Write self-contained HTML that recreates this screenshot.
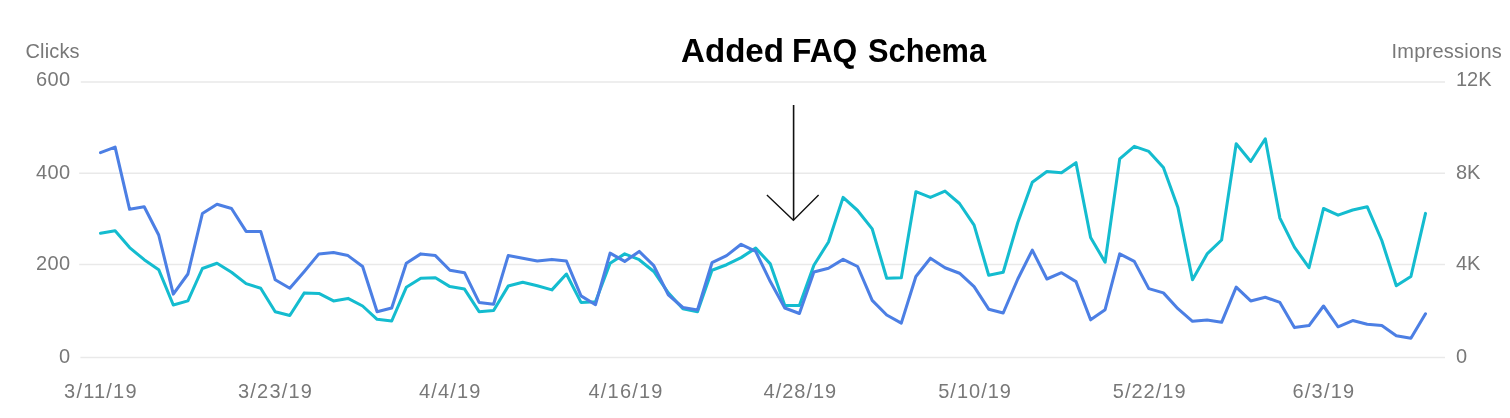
<!DOCTYPE html>
<html><head><meta charset="utf-8"><style>
html,body{margin:0;padding:0;background:#fff;}
body{width:1510px;height:418px;position:relative;overflow:hidden;font-family:"Liberation Sans",sans-serif;color:#787878;font-size:20px;}
.t{transform:scaleY(1.04);filter:blur(0.45px);position:absolute;white-space:nowrap;line-height:20px;}
.xl{transform:scaleY(1.04);filter:blur(0.45px);position:absolute;top:380.5px;width:120px;text-align:center;line-height:20px;letter-spacing:1.2px;white-space:nowrap;}
.title{position:absolute;top:33px;font-weight:bold;font-size:34px;line-height:34px;color:#000;white-space:nowrap;transform-origin:0 0;}
svg{position:absolute;left:0;top:0;}
</style></head><body>
<svg width="1510" height="418" viewBox="0 0 1510 418">
<g stroke="#e9e9e9" stroke-width="1.5" fill="none">
<line x1="80.8" y1="81.9" x2="1445" y2="81.9"/>
<line x1="79.2" y1="173.3" x2="1445" y2="173.3"/>
<line x1="79.2" y1="264.6" x2="1445" y2="264.6"/>
<line x1="80.4" y1="357.6" x2="1445" y2="357.6"/>
</g>
<polyline fill="none" stroke="#14bccf" stroke-width="3.05" stroke-linejoin="round" stroke-linecap="round" style="filter:blur(0.6px)" points="100.5,233.2 115.1,230.7 129.6,247.6 144.2,259.7 158.7,269.7 173.3,305.0 187.9,300.9 202.4,268.5 217.0,263.2 231.5,272.2 246.1,283.6 260.7,288.3 275.2,311.7 289.8,315.5 304.3,292.9 318.9,293.4 333.5,300.9 348.0,298.4 362.6,306.0 377.1,319.3 391.7,321.0 406.3,287.3 420.8,278.3 435.4,277.8 449.9,286.6 464.5,289.1 479.1,311.7 493.6,310.5 508.2,286.1 522.7,282.3 537.3,285.8 551.9,289.9 566.4,274.0 581.0,302.4 595.5,301.7 610.1,263.2 624.7,253.9 639.2,259.7 653.8,271.5 668.3,292.9 682.9,308.7 697.5,311.7 712.0,270.2 726.6,264.7 741.1,257.6 755.7,248.1 770.3,263.9 784.8,305.5 799.4,305.5 813.9,265.2 828.5,242.0 843.1,197.4 857.6,210.5 872.2,228.9 886.7,278.3 901.3,277.8 915.9,191.7 930.4,197.4 945.0,191.1 959.5,203.5 974.1,225.1 988.7,275.3 1003.2,272.2 1017.8,222.5 1032.3,182.3 1046.9,171.5 1061.5,172.8 1076.0,162.7 1090.6,237.5 1105.1,262.2 1119.7,158.9 1134.3,146.4 1148.8,151.4 1163.4,167.5 1177.9,207.5 1192.5,279.8 1207.1,253.9 1221.6,240.0 1236.2,143.8 1250.7,161.5 1265.3,138.8 1279.9,218.1 1294.4,247.1 1309.0,267.7 1323.5,208.5 1338.1,215.1 1352.7,210.0 1367.2,206.7 1381.8,240.5 1396.3,285.8 1410.9,276.5 1425.5,213.4"/>
<polyline fill="none" stroke="#4c7fe4" stroke-width="3.05" stroke-linejoin="round" stroke-linecap="round" style="filter:blur(0.6px)" points="100.5,152.6 115.1,147.1 129.6,209.3 144.2,206.7 158.7,235.0 173.3,294.1 187.9,274.0 202.4,213.5 217.0,204.2 231.5,208.5 246.1,231.4 260.7,231.4 275.2,279.8 289.8,288.3 304.3,271.5 318.9,253.9 333.5,252.6 348.0,255.6 362.6,266.5 377.1,311.7 391.7,308.0 406.3,263.2 420.8,253.9 435.4,255.6 449.9,270.2 464.5,272.7 479.1,302.4 493.6,304.2 508.2,255.6 522.7,258.2 537.3,260.9 551.9,259.4 566.4,261.0 581.0,295.9 595.5,304.7 610.1,253.1 624.7,261.4 639.2,251.4 653.8,265.7 668.3,294.9 682.9,307.5 697.5,310.0 712.0,262.7 726.6,255.6 741.1,244.3 755.7,251.4 770.3,281.6 784.8,308.0 799.4,313.5 813.9,272.0 828.5,268.2 843.1,259.4 857.6,266.5 872.2,300.4 886.7,315.0 901.3,323.1 915.9,276.5 930.4,258.2 945.0,267.7 959.5,273.2 974.1,286.6 988.7,309.2 1003.2,313.0 1017.8,279.0 1032.3,250.1 1046.9,279.0 1061.5,272.7 1076.0,281.6 1090.6,319.8 1105.1,309.7 1119.7,253.9 1134.3,261.4 1148.8,288.6 1163.4,292.9 1177.9,308.7 1192.5,321.3 1207.1,320.1 1221.6,322.3 1236.2,287.1 1250.7,300.9 1265.3,297.2 1279.9,302.4 1294.4,327.6 1309.0,325.6 1323.5,306.0 1338.1,326.8 1352.7,320.6 1367.2,324.3 1381.8,325.6 1396.3,335.7 1410.9,338.2 1425.5,313.8"/>
<g stroke="#111" fill="none">
<line x1="793.6" y1="105" x2="793.6" y2="220" stroke-width="1.6"/>
<polyline points="766.9,195 793.4,220.2 818.6,195" stroke-width="1.35"/>
</g>
</svg>
<div class="title" style="left:681px;transform:scaleX(0.974)">Added</div>
<div class="title" style="left:791.7px;transform:scaleX(0.935)">FAQ</div>
<div class="title" style="left:867.8px;transform:scaleX(0.905)">Schema</div>
<div class="t" style="left:25.5px;top:41px;letter-spacing:0.15px">Clicks</div>
<div class="t" style="right:1439.4px;top:69.4px;letter-spacing:0.4px">600</div>
<div class="t" style="right:1439.4px;top:162.4px;letter-spacing:0.4px">400</div>
<div class="t" style="right:1439.4px;top:253.4px;letter-spacing:0.4px">200</div>
<div class="t" style="right:1440px;top:346px;">0</div>
<div class="t" style="right:8px;top:41px;letter-spacing:0.25px">Impressions</div>
<div class="t" style="left:1456px;top:69px;">12K</div>
<div class="t" style="left:1456px;top:162px;">8K</div>
<div class="t" style="left:1456px;top:253px;">4K</div>
<div class="t" style="left:1456px;top:346px;">0</div>
<div class="xl" style="left:40.9px;letter-spacing:1.2px">3/11/19</div><div class="xl" style="left:215.6px;letter-spacing:1.2px">3/23/19</div><div class="xl" style="left:390.3px;letter-spacing:1.2px">4/4/19</div><div class="xl" style="left:566.1px;letter-spacing:1.2px">4/16/19</div><div class="xl" style="left:740.4px;letter-spacing:1.0px">4/28/19</div><div class="xl" style="left:915.1px;letter-spacing:1.0px">5/10/19</div><div class="xl" style="left:1089.7px;letter-spacing:1.0px">5/22/19</div><div class="xl" style="left:1263.9px;letter-spacing:1.2px">6/3/19</div>
</body></html>
